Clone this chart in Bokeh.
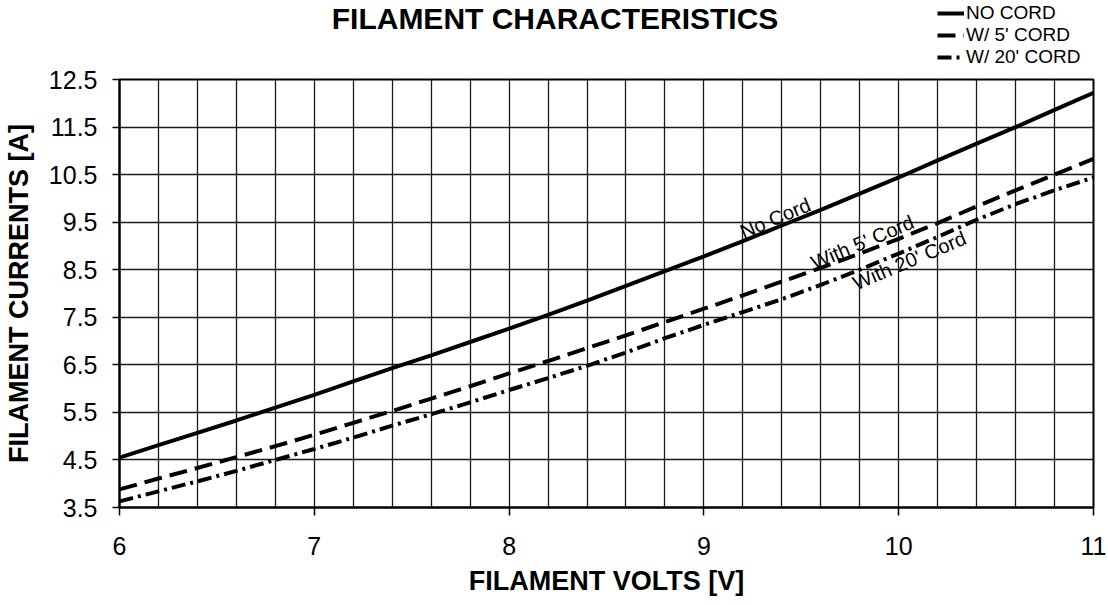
from bokeh.plotting import figure
from bokeh.layouts import column
from bokeh.models import Label, Legend, LegendItem, FixedTicker, Range1d
from bokeh.embed import file_html
from bokeh.resources import INLINE

# ---- data ----
volts = [6.0, 6.2, 6.4, 6.6, 6.8, 7.0, 7.2, 7.4, 7.6, 7.8, 8.0, 8.2, 8.4,
         8.6, 8.8, 9.0, 9.2, 9.4, 9.6, 9.8, 10.0, 10.2, 10.4, 10.6, 10.8, 11.0]
no_cord = [4.55, 4.81, 5.07, 5.33, 5.60, 5.87, 6.15, 6.43, 6.70, 6.98, 7.26, 7.55, 7.85,
           8.16, 8.47, 8.78, 9.10, 9.43, 9.76, 10.10, 10.44, 10.80, 11.15, 11.50, 11.86, 12.22]
cord_5 = [3.88, 4.11, 4.33, 4.56, 4.79, 5.03, 5.28, 5.53, 5.79, 6.05, 6.32, 6.58, 6.85,
          7.12, 7.40, 7.68, 7.96, 8.25, 8.54, 8.84, 9.15, 9.48, 9.83, 10.17, 10.50, 10.83]
cord_20 = [3.63, 3.84, 4.05, 4.27, 4.50, 4.73, 4.97, 5.22, 5.46, 5.71, 5.97, 6.22, 6.48,
           6.76, 7.06, 7.34, 7.61, 7.88, 8.18, 8.50, 8.84, 9.19, 9.55, 9.88, 10.17, 10.44]

x_ticks = [6, 7, 8, 9, 10, 11]
x_grid = [6.0, 6.2, 6.4, 6.6, 6.8, 7.0, 7.2, 7.4, 7.6, 7.8, 8.0, 8.2, 8.4, 8.6, 8.8,
          9.0, 9.2, 9.4, 9.6, 9.8, 10.0, 10.2, 10.4, 10.6, 10.8, 11.0]
y_ticks = [3.5, 4.5, 5.5, 6.5, 7.5, 8.5, 9.5, 10.5, 11.5, 12.5]

title_text = "FILAMENT CHARACTERISTICS"
legend_labels = ["NO CORD", "W/ 5' CORD", "W/ 20' CORD"]
curve_labels = ["No Cord", "With 5' Cord", "With 20' Cord"]
curve_label_pos = [(9.19, 9.28), (9.555, 8.63), (9.77, 8.20)]
series = [no_cord, cord_5, cord_20]

FONT = "Liberation Sans"
STYLES = [dict(line_color="black", line_width=4),
          dict(line_color="black", line_width=4, line_dash="18 8"),
          dict(line_color="black", line_width=4, line_dash="14 5 3 5")]

HEADER_H = 66

# ---------------- main chart ----------------
p = figure(frame_width=974, frame_height=428,
           x_range=(6, 11), y_range=(3.5, 12.5),
           output_backend="svg", toolbar_location=None,
           min_border_left=118, min_border_right=16,
           min_border_top=79 - HEADER_H, min_border_bottom=98)
p.background_fill_color = "white"
p.border_fill_color = "white"
p.outline_line_color = "black"
p.outline_line_width = 2

p.xgrid.ticker = FixedTicker(ticks=x_grid)
p.ygrid.ticker = FixedTicker(ticks=y_ticks)
for g in (p.xgrid, p.ygrid):
    g.grid_line_color = "#1a1a1a"
    g.grid_line_width = 1.3

p.xaxis.ticker = FixedTicker(ticks=x_ticks)
p.yaxis.ticker = FixedTicker(ticks=y_ticks)
for ax in (p.xaxis, p.yaxis):
    ax.axis_line_color = "black"
    ax.axis_line_width = 2
    ax.major_tick_line_color = "black"
    ax.major_tick_line_width = 1.5
    ax.major_tick_in = 0
    ax.minor_tick_line_color = None
    ax.major_label_text_font = FONT
    ax.major_label_text_font_size = "25px"
    ax.major_label_text_color = "black"
    ax.axis_label_text_font = FONT
    ax.axis_label_text_font_style = "bold"
    ax.axis_label_text_font_size = "27px"
    ax.axis_label_text_color = "black"
p.xaxis.major_tick_out = 8
p.yaxis.major_tick_out = 7
p.xaxis.major_label_standoff = 21
p.yaxis.major_label_standoff = 15
p.xaxis.axis_label = "FILAMENT VOLTS [V]"
p.yaxis.axis_label = "FILAMENT CURRENTS [A]"
p.xaxis.axis_label_standoff = 8
p.yaxis.axis_label_standoff = 12

renderers = [p.line(volts, s, **st) for s, st in zip(series, STYLES)]

for txt, (lx, ly) in zip(curve_labels, curve_label_pos):
    p.add_layout(Label(x=lx, y=ly, text=txt, angle=0.40, text_font=FONT,
                       text_font_size="20px", text_color="black",
                       text_align="left", text_baseline="alphabetic"))

# ---------------- header: title + legend ----------------
# header frame is aligned with the main frame (page x 118..1092), units = pixels
h = figure(width=1108, height=HEADER_H, x_range=Range1d(118, 1092),
           y_range=Range1d(0, HEADER_H),
           output_backend="svg", toolbar_location=None,
           x_axis_location=None, y_axis_location=None,
           min_border=0, min_border_left=118, min_border_right=16)
h.grid.visible = False
h.outline_line_color = None
h.background_fill_color = "white"
h.border_fill_color = "white"

h.add_layout(Label(x=554, y=HEADER_H - 17.5, text=title_text, text_font=FONT,
                   text_font_style="bold", text_font_size="30px",
                   text_color="black", text_align="center", text_baseline="middle"))

# same series, drawn in the header only as legend samples (they fall outside its range)
hr = [h.line(volts, s, **st) for s, st in zip(series, STYLES)]
legend = Legend(items=[LegendItem(label=lab, renderers=[r]) for lab, r in zip(legend_labels, hr)],
                location=(936 - 118, HEADER_H - 68), orientation="vertical",
                glyph_width=27, glyph_height=20, label_height=20,
                label_standoff=2, spacing=0, padding=0, margin=0,
                label_text_font=FONT, label_text_font_size="19px",
                label_text_color="black", label_text_baseline="middle",
                background_fill_alpha=0, border_line_color=None)
h.add_layout(legend, "center")

layout = column(h, p, spacing=0)
open("out.html", "w").write(file_html(layout, INLINE))
